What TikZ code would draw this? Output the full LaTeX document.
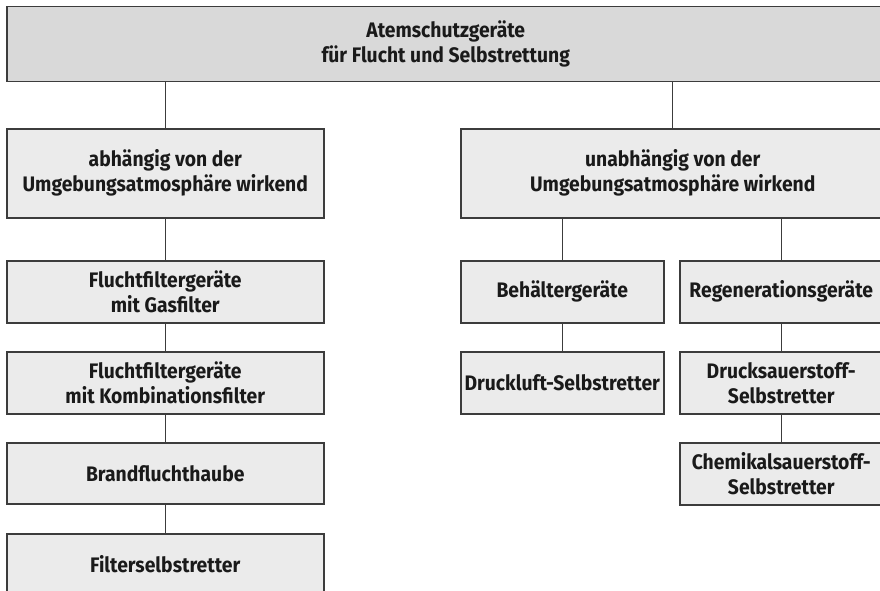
\documentclass[tikz,border=0pt]{standalone}
\usepackage{fontspec}
\newfontfamily\boxfont{Fira Sans}[FakeStretch=0.92]
\definecolor{linec}{HTML}{3C3C3C}
\definecolor{topfill}{HTML}{D9D9D9}
\definecolor{boxfill}{HTML}{EBEBEB}
\definecolor{txt}{HTML}{1A1A1A}
\tikzset{
  box/.style={draw=linec, line width=1.5pt, fill=boxfill, align=center,
    text=txt, font=\boxfont\bfseries\fontsize{21}{25}\selectfont,
    inner sep=0pt, anchor=north west},
  conn/.style={draw=linec, line width=1.3pt},
}
\begin{document}
\begin{tikzpicture}[x=1pt,y=-1pt]
\useasboundingbox (0,0) rectangle (880,591);
\clip (0,0) rectangle (880,591);
\node[box, fill=topfill, minimum width=878, minimum height=75] (top) at (6,6) {Atemschutzgeräte\\für Flucht und Selbstrettung};
\node[box, minimum width=317, minimum height=89] (l1) at (6,128) {abhängig von der\\Umgebungsatmosphäre wirkend};
\node[box, minimum width=424, minimum height=89] (r1) at (460,128) {unabhängig von der\\Umgebungsatmosphäre wirkend};
\node[box, minimum width=317, minimum height=62] (l2) at (6,260) {Fluchtfiltergeräte\\mit Gasfilter};
\node[box, minimum width=317, minimum height=62] (l3) at (6,351) {Fluchtfiltergeräte\\mit Kombinationsfilter};
\node[box, minimum width=317, minimum height=61] (l4) at (6,442) {Brandfluchthaube};
\node[box, minimum width=317, minimum height=61] (l5) at (6,533) {Filterselbstretter};
\node[box, minimum width=203, minimum height=62] (b1) at (460,260) {Behältergeräte};
\node[box, minimum width=203, minimum height=62] (b2) at (460,351) {Druckluft-Selbstretter};
\node[box, minimum width=203, minimum height=62] (g1) at (679,260) {Regenerationsgeräte};
\node[box, minimum width=203, minimum height=62] (g2) at (679,351) {Drucksauerstoff-\\Selbstretter};
\node[box, minimum width=203, minimum height=62] (g3) at (679,442) {Chemikalsauerstoff-\\Selbstretter};
\draw[conn] (l1.north |- top.south) -- (l1.north);
\draw[conn] (r1.north |- top.south) -- (r1.north);
\draw[conn] (l1.south) -- (l2.north);
\draw[conn] (l2.south) -- (l3.north);
\draw[conn] (l3.south) -- (l4.north);
\draw[conn] (l4.south) -- (l5.north);
\draw[conn] (b1.north |- r1.south) -- (b1.north);
\draw[conn] (g1.north |- r1.south) -- (g1.north);
\draw[conn] (b1.south) -- (b2.north);
\draw[conn] (g1.south) -- (g2.north);
\draw[conn] (g2.south) -- (g3.north);
\end{tikzpicture}
\end{document}
